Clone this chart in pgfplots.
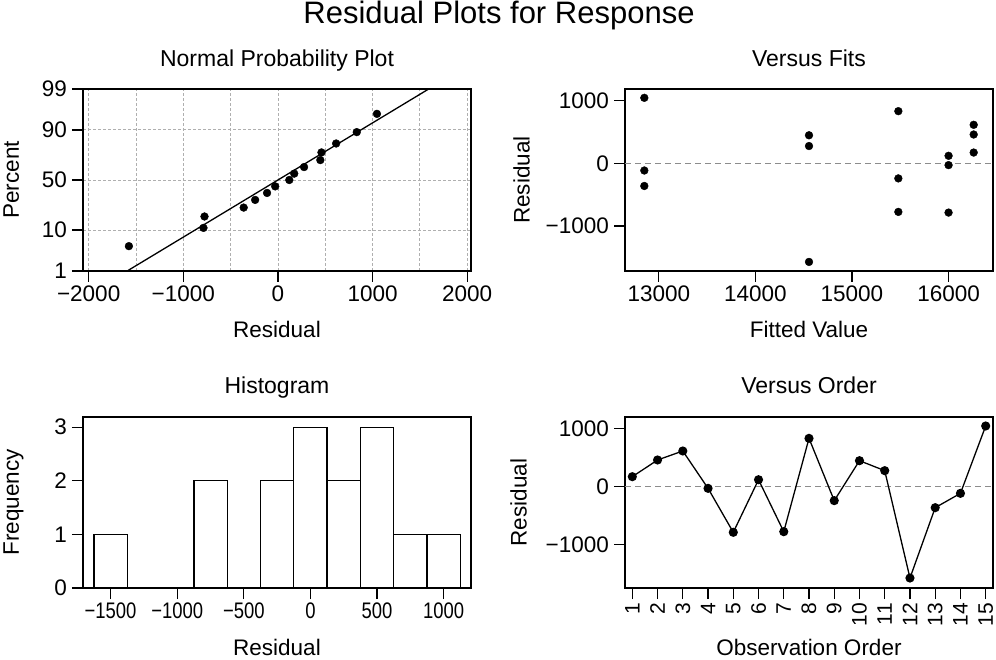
\documentclass[border=0pt]{standalone}
\usepackage{pgfplots}
\pgfplotsset{compat=1.18}
\usepackage{fontspec}
\setmainfont{Liberation Sans}
\newcommand{\tickf}{\fontsize{22.5}{26}\selectfont}
\newcommand{\labf}{\fontsize{22.5}{26}\selectfont}
\newcommand{\titf}{\fontsize{23}{27}\selectfont}
\newcommand{\cnd}[1]{\scalebox{0.82}[1]{#1}}
\definecolor{gridgray}{RGB}{175,175,175}
\definecolor{refgray}{RGB}{140,140,140}
\begin{document}
\begin{tikzpicture}
\path[use as bounding box] (0pt,0pt) rectangle (996pt,659pt);
\pgfplotsset{
  every axis/.append style={
    scale only axis,
    anchor=south west,
    axis line style={line width=1.3pt},
    every tick/.style={line width=1.3pt, black},
    tick align=outside,
    tick pos=left,
    major tick length=11pt,
    scaled ticks=false,
    tick label style={font=\tickf},
    yticklabel style={inner sep=5pt},
    label style={font=\labf},
    title style={font=\titf, anchor=base},
    xlabel style={anchor=base},
    ylabel style={anchor=north, inner sep=0pt},
    clip=false,
  },
  dot/.style={only marks, mark=*, mark size=3.9pt, black},
}
\node[anchor=base, font=\fontsize{31}{37}\selectfont] at (499pt,635pt) {Residual Plots for Response};

% Normal probability plot
\begin{axis}[at={(83pt,388pt)}, width=388pt, height=182pt,
  xmin=-2060, xmax=2040, ymin=-2.3263, ymax=2.3263,
  xtick={-2000,-1000,0,1000,2000},
  xticklabels={−2000,−1000,0,1000,2000},
  minor xtick={-1500,-500,500,1500},
  ytick={-2.3263,-1.2816,0,1.2816,2.3263},
  yticklabels={1,10,50,90,99},
  minor tick length=0pt,
  grid=both,
  grid style={gridgray, line width=0.8pt, dash pattern=on 3pt off 2pt},
  minor grid style={gridgray, line width=0.8pt, dash pattern=on 3pt off 2pt},
  title={Normal Probability Plot},
  title style={at={(axis description cs:0.5,1.09)}},
  xlabel={Residual},
  xlabel style={at={(axis description cs:0.5,-0.365)}},
  ylabel={Percent},
  ylabel style={at={(axis description cs:-0.206,0.5)}},
]
\addplot[black, line width=1.3pt] coordinates {(-1593,-2.3263) (1593,2.3263)};
\addplot[dot] coordinates {
(-1575,-1.691) (-787,-1.224) (-776,-0.933) (-362,-0.705) (-241,-0.509)
(-115,-0.331) (-29,-0.163) (120,0) (172,0.163) (276,0.331)
(448,0.509) (460,0.705) (615,0.933) (833,1.224) (1046,1.691)};
\end{axis}

% Versus fits
\begin{axis}[at={(625pt,388pt)}, width=368pt, height=182pt,
  xmin=12650, xmax=16460, ymin=-1720, ymax=1187,
  xtick={13000,14000,15000,16000},
  xticklabels={13000,14000,15000,16000},
  ytick={-1000,0,1000},
  yticklabels={−1000,0,1000},
  title={Versus Fits},
  title style={at={(axis description cs:0.5,1.09)}},
  xlabel={Fitted Value},
  xlabel style={at={(axis description cs:0.5,-0.365)}},
  ylabel={Residual},
  ylabel style={at={(axis description cs:-0.304,0.5)}},
]
\addplot[refgray, line width=1pt, dash pattern=on 6pt off 4pt] coordinates {(12650,0) (16460,0)};
\addplot[dot] coordinates {
(16260,172) (16260,460) (16260,615)
(16000,-29) (16000,-787) (16000,120)
(15480,-776) (15480,833) (15480,-241)
(14555,448) (14555,276) (14555,-1575)
(12850,-362) (12850,-115) (12850,1046)};
\end{axis}

% Histogram
\begin{axis}[at={(83pt,71pt)}, width=388pt, height=171pt,
  xmin=-1707, xmax=1205, ymin=0, ymax=3.19,
  xtick={-1500,-1000,-500,0,500,1000},
  xticklabels={\cnd{−1500},\cnd{−1000},\cnd{−500},\cnd{0},\cnd{500},\cnd{1000}},
  ytick={0,1,2,3},
  yticklabels={0,1,2,3},
  title={Histogram},
  title style={at={(axis description cs:0.5,1.1)}},
  xlabel={Residual},
  xlabel style={at={(axis description cs:0.5,-0.392)}},
  ylabel={Frequency},
  ylabel style={at={(axis description cs:-0.206,0.5)}},
]
\addplot[ybar interval, draw=black, fill=white, line width=1.3pt] coordinates {
(-1625,1) (-1375,0) (-1125,0) (-875,2) (-625,0) (-375,2) (-125,3)
(125,2) (375,3) (625,1) (875,1) (1125,1)};
\end{axis}

% Versus order
\begin{axis}[at={(625pt,71pt)}, width=368pt, height=171pt,
  xmin=0.71, xmax=15.29, ymin=-1747, ymax=1201,
  xtick={1,2,3,4,5,6,7,8,9,10,11,12,13,14,15},
  xticklabels={1,2,3,4,5,6,7,8,9,10,11,12,13,14,15},
  xticklabel style={rotate=90, anchor=east, inner xsep=4pt, inner ysep=0pt, font=\fontsize{21}{24}\selectfont},
  ytick={-1000,0,1000},
  yticklabels={−1000,0,1000},
  title={Versus Order},
  title style={at={(axis description cs:0.5,1.1)}},
  xlabel={Observation Order},
  xlabel style={at={(axis description cs:0.5,-0.392)}},
  ylabel={Residual},
  ylabel style={at={(axis description cs:-0.3125,0.5)}},
]
\addplot[refgray, line width=1pt, dash pattern=on 6pt off 4pt] coordinates {(0.71,0) (15.29,0)};
\addplot[black, line width=1.3pt, mark=*, mark size=3.9pt] coordinates {
(1,172) (2,460) (3,615) (4,-29) (5,-787) (6,120) (7,-776) (8,833)
(9,-241) (10,448) (11,276) (12,-1575) (13,-362) (14,-115) (15,1046)};
\end{axis}
\end{tikzpicture}
\end{document}
